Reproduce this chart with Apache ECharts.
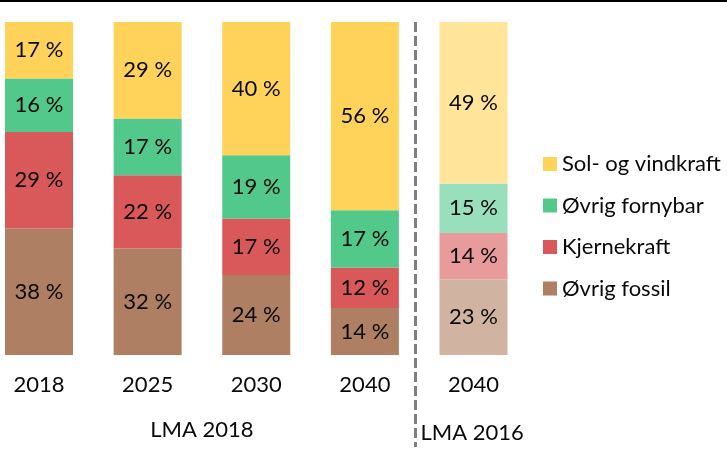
<!DOCTYPE html>
<html>
<head>
<meta charset="utf-8">
<script src="https://cdn.jsdelivr.net/npm/echarts@6/dist/echarts.min.js"></script>
<style>html,body{margin:0;padding:0;background:#fff}#c{width:727px;height:451px}</style>
</head>
<body>
<div id="c"></div>
<script>
var categories = ['2018', '2025', '2030', '2040', '2040 '];
var seriesNames = ['Øvrig fossil', 'Kjernekraft', 'Øvrig fornybar', 'Sol- og vindkraft'];
var fossil   = [38, 32, 24, 14, 23];
var kjerne   = [29, 22, 17, 12, 14];
var fornybar = [16, 17, 19, 17, 15];
var solvind  = [17, 29, 40, 56, 49];
var groupLabels = ['LMA 2018', 'LMA 2016'];

var colors = ['#AE7F62', '#D9595B', '#52C88A', '#FFD25A'];
var lightColors = ['#D0B4A1', '#E99B9B', '#98DFBC', '#FFE49A'];
var FONT = 'Lato';

var raw = [fossil, kjerne, fornybar, solvind];
var totals = categories.map(function (_, i) {
  return raw.reduce(function (s, arr) { return s + arr[i]; }, 0);
});

var series = raw.map(function (arr, k) {
  return {
    name: seriesNames[k],
    type: 'bar',
    stack: 'all',
    barWidth: 68,
    itemStyle: { color: colors[k] },
    label: {
      show: true,
      position: 'inside',
      color: '#0a0a0a',
      fontFamily: FONT,
      fontSize: 22,
      formatter: function (p) { return arr[p.dataIndex] + ' %'; }
    },
    data: arr.map(function (v, i) {
      var d = { value: v / totals[i] * 100 };
      if (i === categories.length - 1) d.itemStyle = { color: lightColors[k] };
      return d;
    })
  };
});

var chart = echarts.init(document.getElementById('c'));
chart.setOption({
  animation: false,
  backgroundColor: '#fff',
  grid: { left: 39, right: 253.5, top: 22, bottom: 96, containLabel: false },
  xAxis: {
    type: 'category',
    boundaryGap: false,
    data: categories,
    axisLine: { show: false },
    axisTick: { show: false },
    axisLabel: { color: '#0a0a0a', fontFamily: FONT, fontSize: 22, margin: 19,
      formatter: function (v) { return v.trim(); } }
  },
  yAxis: { type: 'value', min: 0, max: 100, show: false, splitLine: { show: false } },
  legend: {
    orient: 'vertical',
    left: 538,
    top: 148,
    itemWidth: 14,
    itemHeight: 14,
    itemGap: 19.5,
    icon: 'rect',
    data: ['Sol- og vindkraft', 'Øvrig fornybar', 'Kjernekraft', 'Øvrig fossil'],
    textStyle: { color: '#0a0a0a', fontFamily: FONT, fontSize: 22, padding: [0, 0, 0, 0] }
  },
  series: series
});

var c3 = chart.convertToPixel({ xAxisIndex: 0 }, categories[3]);
var c4 = chart.convertToPixel({ xAxisIndex: 0 }, categories[4]);
var c1 = chart.convertToPixel({ xAxisIndex: 0 }, categories[1]);
var c2 = chart.convertToPixel({ xAxisIndex: 0 }, categories[2]);
var sepX = Math.round(c3 + (c4 - c3) * 0.463) + 0.5;
chart.setOption({
  graphic: [
    { type: 'rect', shape: { x: 0, y: 0, width: 727, height: 2 }, style: { fill: '#000' } },
    { type: 'line', shape: { x1: sepX, y1: 22, x2: sepX, y2: 447 },
      style: { stroke: '#7F7F7F', lineWidth: 3, lineDash: [10, 4] } },
    { type: 'text', x: (c1 + c2) / 2, y: 430,
      style: { text: groupLabels[0], fill: '#0a0a0a', font: '22px ' + FONT, align: 'center', verticalAlign: 'middle' } },
    { type: 'text', x: sepX + 5, y: 433,
      style: { text: groupLabels[1], fill: '#0a0a0a', font: '22px ' + FONT, align: 'left', verticalAlign: 'middle' } }
  ]
});
</script>
</body>
</html>
